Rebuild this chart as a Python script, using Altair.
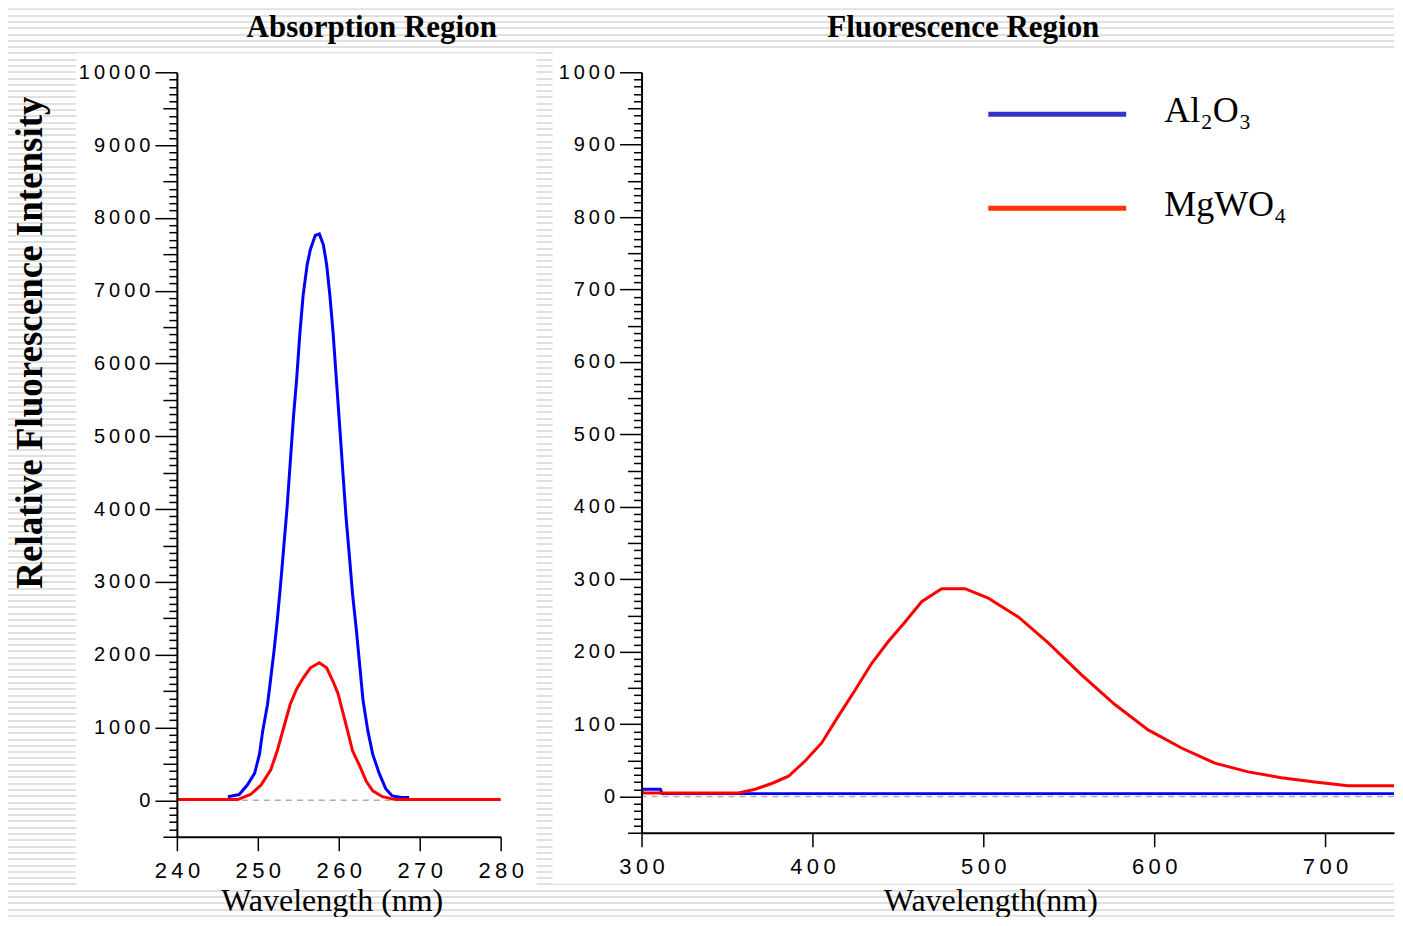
import altair as alt
import pandas as pd

# ---------------- data ----------------
# Absorption region (nm, intensity)
abs_al_x = [246.3, 247.7, 248.7, 249.6, 250.2, 250.6, 251.2, 251.6, 252.0, 252.4, 252.8,
            253.2, 253.6, 254.0, 254.4, 254.8, 255.2, 255.6, 256.1, 256.5, 257.1, 257.6,
            258.1, 258.5, 258.9, 259.3, 259.7, 260.1, 260.5, 260.9, 261.3, 261.7, 262.2,
            262.6, 263.0, 263.6, 264.2, 265.0, 265.8, 266.6, 267.8, 268.7]
abs_al_y = [50, 80, 210, 370, 630, 950, 1320, 1680, 2050, 2470, 2950,
            3470, 4000, 4630, 5260, 5790, 6420, 6940, 7360, 7570, 7760, 7780,
            7630, 7360, 6940, 6420, 5790, 5160, 4520, 3890, 3370, 2840, 2310,
            1840, 1370, 950, 630, 370, 160, 60, 40, 40]

abs_mg_x = [240, 247.5, 249.1, 250.4, 251.6, 252.4, 253.2, 254.0, 254.8, 255.6, 256.5,
            257.6, 258.5, 259.3, 259.9, 260.5, 261.1, 261.7, 262.6, 263.4, 264.2, 265.4,
            267.0, 280]
abs_mg_y = [10, 10, 80, 210, 420, 680, 1000, 1320, 1530, 1680, 1820,
            1890, 1820, 1630, 1470, 1210, 950, 680, 470, 260, 130, 50,
            10, 10]

# Fluorescence region (nm, intensity)
fl_al_x = [300, 311, 312, 745]
fl_al_y = [10, 10, 4, 4]

fl_mg_x = [300, 300.5, 356.7, 366.5, 376.2, 386.0, 395.7, 405.4, 415.2, 425.0, 434.7,
           444.4, 454.2, 463.9, 475.6, 489.3, 502.9, 508.8, 520.5, 538.0, 557.5, 577.0,
           596.5, 616.0, 635.5, 655.0, 674.4, 694.0, 713.5, 745]
fl_mg_y = [9, 5, 5, 10, 18, 28, 49, 74, 111, 147, 184,
           214, 241, 269, 287, 287, 274, 265, 248, 212, 168, 127,
           92, 67, 46, 34, 26, 20, 15, 15]

series_names = ["Al₂O₃", "MgWO₄"]
panel_titles = ["Absorption Region", "Fluorescence Region"]
abs_x_ticks = [240, 250, 260, 270, 280]
fl_x_ticks = [300, 400, 500, 600, 700]

# ---------------- styling ----------------
SERIF = "'Liberation Serif', 'Times New Roman', serif"
NUMFONT = "'Liberation Sans Narrow', 'Liberation Sans', Arial, sans-serif"
BLUE, RED = "#0000ff", "#ff0000"
LEG_BLUE, LEG_RED = "#3333cc", "#ff3300"
STRIPE = "#e0e0e0"
SPACED = "join(split(datum.label, ''), '\u2009')"

LW, LH = 324, 765   # left plot area
RW, RH = 753, 761   # right plot area (page is cut at the right edge)

one = pd.DataFrame({"k": [0]})

# striped page background as a gradient
H_STRIPES = 909
period = 6.3
stops = []
pos = 0.0
while pos < H_STRIPES:
    a = pos / H_STRIPES
    b = min((pos + 2) / H_STRIPES, 1.0)
    c = min((pos + period) / H_STRIPES, 1.0)
    stops += [{"offset": a, "color": STRIPE}, {"offset": b, "color": STRIPE},
              {"offset": b, "color": "#ffffff"}, {"offset": c, "color": "#ffffff"}]
    pos += period
stripe_fill = {"gradient": "linear", "x1": 0, "y1": 0, "x2": 0, "y2": 1, "stops": stops}


def y_axis(step_major, step_mid, values, label_cond, title, title_x, title_y):
    return alt.Axis(
        values=values, format="d",
        labelExpr=f"{label_cond} ? {SPACED} : ''",
        tickSize={"condition": [{"test": f"datum.value % {step_major} === 0", "value": 22},
                                {"test": f"datum.value % {step_mid} === 0", "value": 14}],
                  "value": 8},
        tickWidth=1.5, tickColor="black", domainColor="black", domainWidth=2,
        labelFont=NUMFONT, labelFontSize=20, labelColor="black", labelPadding=5,
        labelOverlap=False, grid=False, zindex=1,
        title=title, titleFont=SERIF, titleFontSize=37, titleFontWeight="bold",
        titleColor="black", titleX=title_x, titleY=title_y, titleAngle=270,
        titleAlign="center", titleBaseline="middle",
    )


def x_axis(values, title, title_x, title_y):
    return alt.Axis(
        values=values, format="d", labelExpr=SPACED,
        tickSize=14, tickWidth=1.5, tickColor="black", domainColor="black", domainWidth=2,
        labelFont=NUMFONT, labelFontSize=22, labelColor="black", labelPadding=10,
        labelFlush=False, labelOverlap=False, grid=False, zindex=1,
        title=title, titleFont=SERIF, titleFontSize=32, titleFontWeight="normal",
        titleColor="black", titleX=title_x, titleY=title_y, titleAlign="center",
        titleBaseline="alphabetic",
    )


def title_text(text, x):
    return alt.Chart(one).mark_text(text=text, font=SERIF, fontSize=31, fontWeight="bold",
                                    align="center", baseline="alphabetic", color="black").encode(
        x=alt.value(x), y=alt.value(-35))


# ---------------- left panel: absorption ----------------
ax_l = alt.Scale(domain=[240, 280], nice=False, zero=False)
ay_l = alt.Scale(domain=[-500, 10000], nice=False, zero=False)
xa_l = x_axis(abs_x_ticks, "Wavelength (nm)", 155, 74)
ya_l = y_axis(1000, 500, list(range(-500, 10001, 100)), "datum.value % 1000 === 0",
              "Relative Fluorescence Intensity", -146, 270)

bg_stripes = alt.Chart(one).mark_rect(fill=stripe_fill).encode(
    x=alt.value(-169), x2=alt.value(1218), y=alt.value(-64), y2=alt.value(845))
box_l = alt.Chart(one).mark_rect(fill="white").encode(
    x=alt.value(-101), x2=alt.value(360), y=alt.value(-19), y2=alt.value(817))
zero_l = alt.Chart(one).mark_rule(color="#b5ad9e", strokeDash=[6, 5], strokeWidth=1.5).encode(
    y=alt.Y(datum=0, scale=ay_l, axis=ya_l))

df_al_abs = pd.DataFrame({"wl": abs_al_x, "val": abs_al_y})
df_mg_abs = pd.DataFrame({"wl": abs_mg_x, "val": abs_mg_y})
line_al_l = alt.Chart(df_al_abs).mark_line(color=BLUE, strokeWidth=3).encode(
    x=alt.X("wl:Q", scale=ax_l, axis=xa_l), y=alt.Y("val:Q", scale=ay_l, axis=ya_l))
line_mg_l = alt.Chart(df_mg_abs).mark_line(color=RED, strokeWidth=3).encode(
    x=alt.X("wl:Q", scale=ax_l, axis=xa_l), y=alt.Y("val:Q", scale=ay_l, axis=ya_l))

left = alt.layer(bg_stripes, box_l, zero_l, line_al_l, line_mg_l,
                 title_text(panel_titles[0], 195)).properties(width=LW, height=LH)

# ---------------- right panel: fluorescence ----------------
ax_r = alt.Scale(domain=[300, 300 + RW / 1.71], nice=False, zero=False)
ay_r = alt.Scale(domain=[-50, 1000], nice=False, zero=False)
xa_r = x_axis(fl_x_ticks, "Wavelength(nm)", 349, 78)
ya_r = y_axis(100, 50, list(range(-50, 1001, 10)), "datum.value % 100 === 0 && datum.value >= 0",
              "", 0, 0)

box_r = alt.Chart(one).mark_rect(fill="white").encode(
    x=alt.value(-89), x2=alt.value(RW), y=alt.value(-22), y2=alt.value(812))
zero_r = alt.Chart(one).mark_rule(color="#b5ad9e", strokeDash=[6, 5], strokeWidth=1.5).encode(
    y=alt.Y(datum=0, scale=ay_r, axis=ya_r))

df_al_fl = pd.DataFrame({"wl": fl_al_x, "val": fl_al_y})
df_mg_fl = pd.DataFrame({"wl": fl_mg_x, "val": fl_mg_y})
line_al_r = alt.Chart(df_al_fl).mark_line(color=BLUE, strokeWidth=3, clip=True).encode(
    x=alt.X("wl:Q", scale=ax_r, axis=xa_r), y=alt.Y("val:Q", scale=ay_r, axis=ya_r))
line_mg_r = alt.Chart(df_mg_fl).mark_line(color=RED, strokeWidth=3, clip=True).encode(
    x=alt.X("wl:Q", scale=ax_r, axis=xa_r), y=alt.Y("val:Q", scale=ay_r, axis=ya_r))

leg_rule_al = alt.Chart(one).mark_rule(color=LEG_BLUE, strokeWidth=5).encode(
    x=alt.value(347), x2=alt.value(485), y=alt.value(42))
leg_rule_mg = alt.Chart(one).mark_rule(color=LEG_RED, strokeWidth=5).encode(
    x=alt.value(347), x2=alt.value(485), y=alt.value(136))
leg_text_al = alt.Chart(one).mark_text(text=series_names[0], font=SERIF, fontSize=36,
                                       align="left", baseline="alphabetic", color="black").encode(
    x=alt.value(523), y=alt.value(50))
leg_text_mg = alt.Chart(one).mark_text(text=series_names[1], font=SERIF, fontSize=36,
                                       align="left", baseline="alphabetic", color="black").encode(
    x=alt.value(523), y=alt.value(144))

right = alt.layer(box_r, zero_r, line_al_r, line_mg_r,
                  leg_rule_al, leg_rule_mg, leg_text_al, leg_text_mg,
                  title_text(panel_titles[1], 322)).properties(width=RW, height=RH)

chart = alt.hconcat(left, right, spacing=141, bounds="flush").properties(
    padding=0, background="white").configure_view(strokeWidth=0)

chart.save("out.html", embed_options={"renderer": "svg", "actions": False})
